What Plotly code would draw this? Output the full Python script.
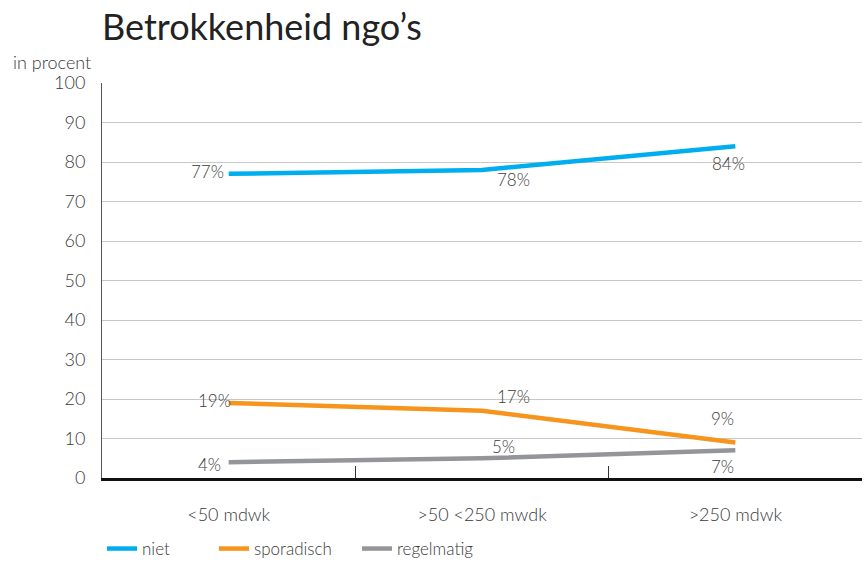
import plotly.graph_objects as go

# Chart data
categories = ["<50 mdwk", ">50 <250 mwdk", ">250 mdwk"]
niet = [77, 78, 84]
sporadisch = [19, 17, 9]
regelmatig = [4, 5, 7]
y_ticks = [0, 10, 20, 30, 40, 50, 60, 70, 80, 90, 100]

series = [
    ("niet", niet, "#00AEEF", "legend"),
    ("sporadisch", sporadisch, "#F7941D", "legend2"),
    ("regelmatig", regelmatig, "#939598", "legend3"),
]

# label offsets (pixels) per series and category
label_shifts = {
    "niet": [(-21, 2), (31, -10), (-7, -17)],
    "sporadisch": [(-14, 2), (31, 14), (-13, 24)],
    "regelmatig": [(-19, -2), (21, 12), (-13, -16)],
}

FONT = "Lato, 'Open Sans', sans-serif"
TEXT = "#3a3a3a"
W, H = 867, 563
ML, MR, MT, MB = 102, 5, 83, 85
PW, PH = W - ML - MR, H - MT - MB


def lfont(size, color=TEXT):
    return dict(family=FONT, size=size, color=color, weight=300)


fig = go.Figure()
for name, vals, color, leg in series:
    fig.add_trace(go.Scatter(
        x=categories, y=vals, name=name, mode="lines", showlegend=True,
        line=dict(color=color, width=4.5), legend=leg,
    ))

annotations = []
for name, vals, color, leg in series:
    for cat, v, (dx, dy) in zip(categories, vals, label_shifts[name]):
        annotations.append(dict(
            x=cat, y=v, xref="x", yref="y", text=f"{v}%", showarrow=False,
            xshift=dx, yshift=dy, font=lfont(17),
        ))

annotations.append(dict(
    text="in procent", showarrow=False,
    xref="paper", yref="paper", x=(11 - ML) / PW, y=(H - 62 - MB) / PH,
    xanchor="left", yanchor="middle", font=lfont(18),
))

legend_y = 1 - 549 / H
legend_common = dict(orientation="h", xanchor="left", yanchor="middle",
                     yref="container", y=legend_y, font=lfont(17),
                     bgcolor="rgba(0,0,0,0)")

fig.update_layout(
    width=W, height=H,
    margin=dict(l=ML, r=MR, t=MT, b=MB, autoexpand=False),
    paper_bgcolor="white", plot_bgcolor="white",
    font=dict(family=FONT, color=TEXT),
    title=dict(
        text="Betrokkenheid ngo’s", x=102 / W, xanchor="left",
        y=1 - 27 / H, yanchor="middle",
        font=dict(family=FONT, size=36, color="#222222"),
    ),
    annotations=annotations,
    showlegend=True,
    legend=dict(x=(102 - ML) / PW, **legend_common),
    legend2=dict(x=(214 - ML) / PW, **legend_common),
    legend3=dict(x=(357 - ML) / PW, **legend_common),
)

fig.update_xaxes(
    type="category", range=[-0.5, 2.5],
    showline=True, linecolor="#111111", linewidth=2.5,
    showgrid=False, ticks="inside", tickson="boundaries", ticklen=12,
    tickcolor="#333333", tickwidth=1,
    ticklabelstandoff=19, tickfont=lfont(18),
)
fig.update_yaxes(
    range=[0, 100], tickvals=y_ticks, ticktext=[str(t) for t in y_ticks],
    showline=True, linecolor="#555555", linewidth=1,
    showgrid=True, gridcolor="#c8c8c8", gridwidth=1,
    zeroline=False, ticks="", ticklabelstandoff=12,
    tickfont=lfont(18),
)

fig.write_html("out.html")
